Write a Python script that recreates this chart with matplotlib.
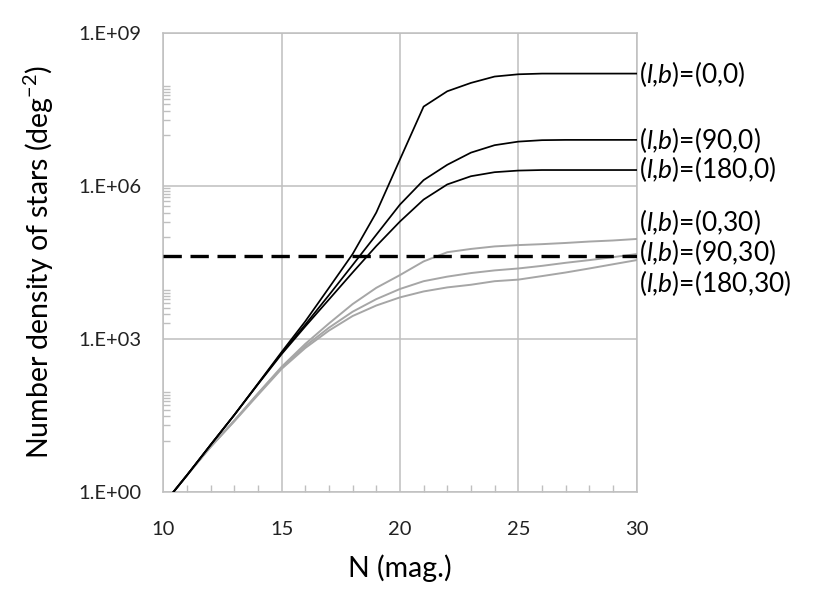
import numpy as np
import matplotlib
matplotlib.use('Agg')
import matplotlib.pyplot as plt
from matplotlib.ticker import FixedLocator, NullFormatter

plt.rcParams['font.family'] = ['Lato', 'DejaVu Sans']
plt.rcParams['mathtext.fontset'] = 'custom'
plt.rcParams['mathtext.rm'] = 'Lato'
plt.rcParams['mathtext.it'] = 'Lato:italic'

# magnitude grid
mag = list(range(10, 31))

# number density of stars (deg^-2)
dens_0_0 = [0.56, 2.1, 8.3, 32, 132, 550, 2.2e3, 1.0e4, 4.6e4, 3.0e5, 3.3e6,
            3.6e7, 7.2e7, 1.05e8, 1.4e8, 1.55e8, 1.6e8, 1.6e8, 1.6e8, 1.6e8, 1.6e8]
dens_90_0 = [0.56, 2.1, 8.3, 32, 130, 525, 1.9e3, 7.2e3, 2.8e4, 1.1e5, 4.3e5,
             1.3e6, 2.6e6, 4.5e6, 6.3e6, 7.4e6, 7.9e6, 8.0e6, 8.0e6, 8.0e6, 8.0e6]
dens_180_0 = [0.56, 2.1, 8.3, 32, 128, 500, 1.75e3, 5.9e3, 2.0e4, 6.6e4, 2.0e5,
              5.4e5, 1.07e6, 1.55e6, 1.86e6, 2.0e6, 2.05e6, 2.05e6, 2.05e6, 2.05e6, 2.05e6]
dens_0_30 = [0.56, 2.1, 7.6, 25, 85, 282, 794, 2.0e3, 4.8e3, 1.0e4, 1.78e4,
             3.3e4, 5.0e4, 5.8e4, 6.5e4, 6.9e4, 7.2e4, 7.6e4, 8.1e4, 8.5e4, 9.1e4]
dens_90_30 = [0.56, 2.1, 7.6, 24.5, 83, 270, 720, 1.65e3, 3.4e3, 6.0e3, 9.5e3,
              1.35e4, 1.66e4, 1.95e4, 2.2e4, 2.4e4, 2.7e4, 3.1e4, 3.5e4, 4.0e4, 4.6e4]
dens_180_30 = [0.56, 2.1, 7.6, 24, 79, 257, 660, 1.45e3, 2.8e3, 4.5e3, 6.5e3,
               8.5e3, 1.02e4, 1.15e4, 1.35e4, 1.45e4, 1.7e4, 2.0e4, 2.4e4, 2.9e4, 3.5e4]

# horizontal reference level
limit_mag = [10, 30]
limit_dens = [4.3e4, 4.3e4]

labels = ['(0,0)', '(90,0)', '(180,0)', '(0,30)', '(90,30)', '(180,30)']
label_y = [1.6e8, 8.1e6, 2.1e6, 2.0e5, 5.0e4, 1.26e4]

fig = plt.figure(figsize=(8.3, 5.95), dpi=100)
ax = fig.add_axes([0.1967, 0.1736, 0.5703, 0.7709])

black_series = [dens_0_0, dens_90_0, dens_180_0]
gray_series = [dens_0_30, dens_90_30, dens_180_30]
for d in gray_series:
    ax.plot(mag, d, color='#a6a6a6', lw=1.4, zorder=3)
for d in black_series:
    ax.plot(mag, d, color='black', lw=1.25, zorder=4)
ax.plot(limit_mag, limit_dens, color='black', lw=2.4, linestyle=(0, (5.5, 2.6)), zorder=5)

ax.set_yscale('log')
ax.set_xlim(10, 30)
ax.set_ylim(1, 1e9)

ax.set_xticks([10, 15, 20, 25, 30])
ax.set_yticks([1, 1e3, 1e6, 1e9])
ax.set_yticklabels(['1.E+00', '1.E+03', '1.E+06', '1.E+09'])
ax.xaxis.set_minor_locator(FixedLocator(np.arange(11, 30)))
ax.yaxis.set_minor_locator(FixedLocator([10 * k * 100 ** n for n in range(4) for k in range(1, 10)]))
ax.yaxis.set_minor_formatter(NullFormatter())

grid_c = '#bfbfbf'
ax.grid(True, which='major', color=grid_c, lw=1.1)
ax.tick_params(which='major', length=0, labelsize=14.5, colors='#222222')
ax.tick_params(axis='y', which='major', pad=16)
ax.tick_params(axis='x', which='major', pad=21)
ax.tick_params(which='minor', direction='in', length=5, color=grid_c, width=1)
for s in ax.spines.values():
    s.set_color(grid_c)
    s.set_linewidth(1.1)

ax.set_xlabel('N (mag.)', fontsize=20.5, labelpad=12)
ax.set_ylabel('Number density of stars (deg$^{-2}$)', fontsize=20.5, labelpad=16)

for lab, y in zip(labels, label_y):
    ax.text(30.12, y, r'($\mathit{l}$,$\mathit{b}$)=' + lab, fontsize=19,
            ha='left', va='center', clip_on=False)

fig.savefig('out.png', dpi=100)
